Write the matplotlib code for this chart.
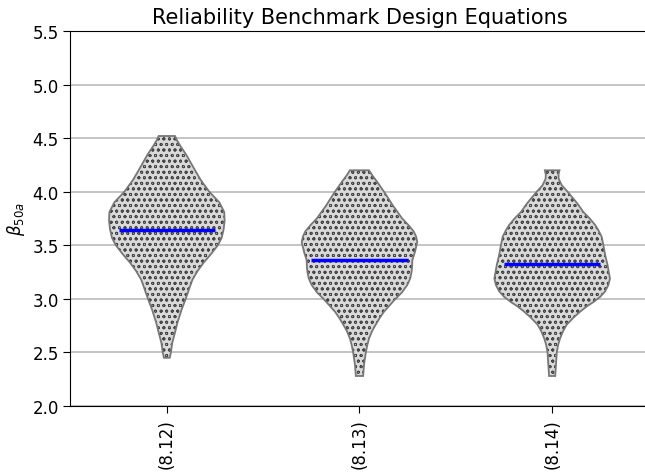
import numpy as np
import matplotlib
matplotlib.use('Agg')
import matplotlib.pyplot as plt
from matplotlib.patches import PathPatch

plt.rcParams['hatch.linewidth'] = 0.6

# =============================================================================
# DATA
# =============================================================================

labels = ['(8.12)', '(8.13)', '(8.14)']
means = [3.645, 3.363, 3.327]

# density outline of each violin: beta levels and half-widths
y_812 = [2.45, 2.50, 2.59, 2.70, 2.78, 2.90, 3.00, 3.10, 3.18, 3.26, 3.34, 3.42,
         3.50, 3.57, 3.65, 3.73, 3.81, 3.90, 4.00, 4.11, 4.20, 4.27, 4.35, 4.42,
         4.48, 4.52]
w_812 = [0.015, 0.021, 0.028, 0.044, 0.055, 0.076, 0.097, 0.116, 0.132, 0.158,
         0.190, 0.228, 0.262, 0.282, 0.292, 0.297, 0.295, 0.270, 0.218, 0.174,
         0.145, 0.123, 0.098, 0.072, 0.052, 0.042]

y_813 = [2.28, 2.39, 2.50, 2.57, 2.63, 2.70, 2.76, 2.82, 2.88, 2.94, 3.00, 3.06,
         3.13, 3.19, 3.25, 3.30, 3.36, 3.44, 3.53, 3.58, 3.63, 3.69, 3.75, 3.82,
         3.88, 3.94, 4.00, 4.09, 4.15, 4.20]
w_813 = [0.019, 0.024, 0.033, 0.041, 0.050, 0.066, 0.085, 0.105, 0.128, 0.158,
         0.188, 0.222, 0.250, 0.265, 0.272, 0.275, 0.276, 0.290, 0.302, 0.296,
         0.283, 0.255, 0.223, 0.195, 0.171, 0.150, 0.128, 0.093, 0.068, 0.050]

y_814 = [2.28, 2.39, 2.50, 2.57, 2.63, 2.70, 2.76, 2.82, 2.88, 2.93, 2.97, 3.02,
         3.07, 3.13, 3.19, 3.25, 3.32, 3.41, 3.50, 3.58, 3.64, 3.69, 3.75, 3.81,
         3.88, 3.94, 4.00, 4.06, 4.12, 4.16, 4.20]
w_814 = [0.016, 0.020, 0.024, 0.031, 0.041, 0.057, 0.076, 0.108, 0.145, 0.180,
         0.214, 0.250, 0.275, 0.292, 0.300, 0.294, 0.287, 0.275, 0.266, 0.257,
         0.240, 0.223, 0.195, 0.162, 0.135, 0.108, 0.080, 0.050, 0.034, 0.033,
         0.038]

profiles = [(y_812, w_812), (y_813, w_813), (y_814, w_814)]

# =============================================================================
# PLOT
# =============================================================================

positions = np.arange(len(labels))
vpstats = []
for (yy, ww), m in zip(profiles, means):
    vpstats.append({'coords': np.array(yy), 'vals': np.array(ww),
                    'mean': m, 'median': m,
                    'min': min(yy), 'max': max(yy)})

fig = plt.figure(figsize=(6.45, 4.77), dpi=100)
ax = fig.add_axes([0.1093, 0.1468, 0.8961, 0.7861])

parts = ax.violin(vpstats, positions=positions, widths=0.6,
                  showmeans=False, showextrema=False, showmedians=False)
for body in parts['bodies']:
    body.set_facecolor('#d9d9d9')
    body.set_edgecolor('#454545')
    body.set_linewidth(0)
    body.set_alpha(1)
    body.set_hatch('ooo')
    body.set_zorder(2)
    outline = PathPatch(body.get_paths()[0], facecolor='none',
                        edgecolor='#777777', lw=1.3, zorder=3)
    ax.add_patch(outline)

ax.hlines(means, positions - 0.25, positions + 0.25, colors='#0000ff',
          lw=2.5, zorder=4)

# =============================================================================
# CUSTOM
# =============================================================================

ax.set_xlim(-0.5, 2.5)
ax.set_ylim(2.0, 5.5)
ax.set_yticks(np.arange(2.0, 5.51, 0.5))
ax.set_xticks(positions)
ax.set_xticklabels(labels, rotation=90)
ax.tick_params(labelsize=12, length=5)
ax.yaxis.grid(True, color='#b4b4b4', lw=1.1)
ax.set_axisbelow(True)
ax.set_ylabel(r'$\beta_{50a}$', size=12)
ax.set_title('Reliability Benchmark Design Equations', size=15)

plt.savefig('out.png', dpi=100)
